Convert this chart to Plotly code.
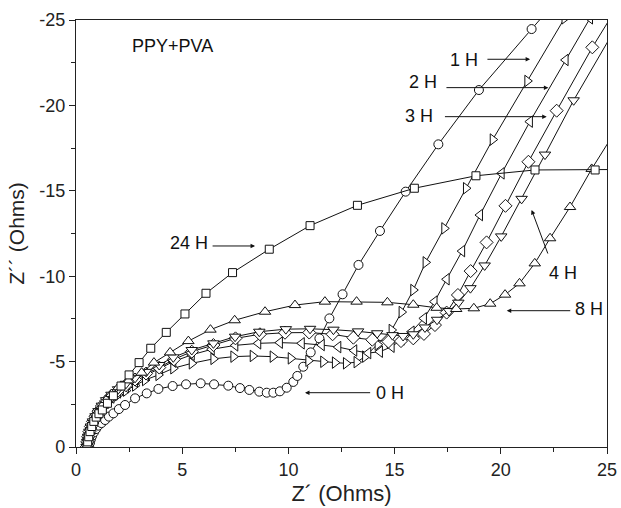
import plotly.graph_objects as go

# ---------------- data (Z' , Z'') ----------------
x_0h = [0.62,0.66,0.7,0.76,0.84,0.94,1.05,1.2,1.37,1.55,1.76,2.02,2.31,2.78,3.33,3.88,4.55,5.18,5.87,6.50,7.17,7.72,8.16,8.63,8.98,9.29,9.60,9.92,10.23,10.42,10.70,11.05,11.46,11.93,12.55,13.30,14.31,15.52,17.06,18.97,21.45,22.6]
y_0h = [-0.05,-0.25,-0.45,-0.65,-0.85,-1.05,-1.25,-1.4,-1.58,-1.78,-1.97,-2.22,-2.46,-2.85,-3.14,-3.40,-3.57,-3.67,-3.73,-3.67,-3.59,-3.45,-3.34,-3.24,-3.18,-3.18,-3.26,-3.47,-3.81,-4.16,-4.70,-5.54,-6.36,-7.53,-8.94,-10.66,-12.65,-14.95,-17.72,-20.90,-24.47,-26.1]

x_1h = [0.5,0.53,0.57,0.63,0.7,0.8,0.92,1.06,1.22,1.42,1.67,1.98,2.35,2.78,3.25,3.88,4.58,5.45,6.47,7.41,8.32,9.26,10.11,10.94,11.64,12.19,12.71,13.21,13.61,14.2,14.86,15.33,15.88,16.46,17.34,18.36,19.62,21.25,23.0]
y_1h = [0.0,-0.28,-0.55,-0.85,-1.12,-1.4,-1.68,-1.95,-2.22,-2.5,-2.78,-3.05,-3.3,-3.6,-3.92,-4.22,-4.61,-4.90,-5.16,-5.29,-5.33,-5.29,-5.19,-5.05,-4.99,-4.94,-4.90,-4.97,-5.29,-6.0,-6.85,-7.9,-9.19,-10.81,-12.8,-15.15,-18.0,-21.43,-25.1]

x_2h = [0.5,0.53,0.57,0.63,0.7,0.8,0.92,1.06,1.22,1.42,1.67,1.98,2.35,2.78,3.3,3.95,4.58,5.45,6.39,7.5,8.58,9.60,10.63,11.57,12.35,13.1,13.76,14.31,14.86,15.33,15.8,16.38,16.88,17.45,18.18,19.02,20.04,21.37,23.05,24.2]
y_2h = [0.0,-0.29,-0.58,-0.88,-1.17,-1.46,-1.75,-2.03,-2.32,-2.6,-2.9,-3.2,-3.5,-3.82,-4.2,-4.61,-5.0,-5.4,-5.72,-5.95,-6.07,-6.11,-6.07,-5.97,-5.85,-5.65,-5.5,-5.58,-5.87,-6.30,-6.75,-7.53,-8.51,-9.82,-11.47,-13.58,-16.02,-19.05,-22.66,-25.1]

x_3h = [0.5,0.53,0.57,0.63,0.7,0.8,0.92,1.06,1.22,1.42,1.67,1.98,2.35,2.78,3.3,3.92,4.61,5.45,6.47,7.51,8.66,9.84,10.98,12.08,13.06,13.95,14.71,15.3,15.88,16.38,16.90,17.45,17.98,18.58,19.33,20.22,21.30,22.63,24.31,25.2]
y_3h = [0.0,-0.3,-0.6,-0.9,-1.2,-1.5,-1.8,-2.1,-2.4,-2.7,-3.0,-3.3,-3.62,-3.95,-4.3,-4.65,-5.13,-5.58,-5.97,-6.36,-6.6,-6.69,-6.7,-6.6,-6.4,-6.28,-6.17,-6.2,-6.36,-6.62,-7.14,-7.87,-8.9,-10.3,-11.98,-14.12,-16.7,-19.69,-23.4,-25.2]

x_4h = [0.5,0.53,0.57,0.63,0.7,0.8,0.92,1.06,1.22,1.42,1.67,1.98,2.35,2.78,3.3,3.92,4.58,5.45,6.47,7.49,8.63,9.88,11.02,12.12,13.28,14.18,14.9,15.4,15.88,16.43,17.0,17.56,18.0,18.57,19.24,20.02,20.98,22.08,23.43,25.3]
y_4h = [0.0,-0.3,-0.6,-0.9,-1.2,-1.5,-1.8,-2.1,-2.42,-2.74,-3.06,-3.38,-3.7,-4.05,-4.4,-4.8,-5.25,-5.68,-6.07,-6.46,-6.75,-6.9,-6.92,-6.87,-6.77,-6.66,-6.55,-6.5,-6.6,-7.0,-7.45,-7.96,-8.45,-9.3,-10.63,-12.33,-14.53,-17.12,-20.3,-24.3]

x_8h = [0.5,0.53,0.57,0.63,0.7,0.8,0.92,1.06,1.22,1.42,1.67,2.0,2.45,3.09,3.67,4.43,5.29,6.33,7.47,8.90,10.31,11.72,13.21,14.66,15.88,16.98,17.9,18.73,19.5,20.2,20.88,21.6,22.32,23.26,24.28,25.6]
y_8h = [0.0,-0.3,-0.6,-0.9,-1.2,-1.5,-1.8,-2.1,-2.4,-2.75,-3.1,-3.5,-3.9,-4.35,-4.94,-5.54,-6.2,-6.87,-7.42,-7.92,-8.31,-8.51,-8.51,-8.47,-8.33,-8.15,-8.08,-8.12,-8.39,-8.92,-9.58,-10.75,-12.22,-14.05,-16.28,-18.9]

x_24h = [0.52,0.55,0.6,0.66,0.74,0.84,0.95,1.08,1.24,1.48,1.76,2.12,2.50,2.97,3.52,4.25,5.13,6.12,7.37,9.10,11.02,13.25,15.93,18.83,21.61,24.44,26.0]
y_24h = [0.0,-0.3,-0.6,-0.9,-1.2,-1.5,-1.75,-1.95,-2.17,-2.56,-3.0,-3.57,-4.22,-4.94,-5.78,-6.71,-7.79,-9.0,-10.21,-11.58,-12.96,-14.15,-15.15,-15.88,-16.22,-16.22,-16.25]

x_ticks = [0, 5, 10, 15, 20, 25]
x_tick_text = ["0", "5", "10", "15", "20", "25"]
y_ticks = [0, -5, -10, -15, -20, -25]
y_tick_text = ["0", "-5", "-10", "-15", "-20", "-25"]

series = [
    ("0 H", x_0h, y_0h, "circle", 9),
    ("1 H", x_1h, y_1h, "triangle-right", 10),
    ("2 H", x_2h, y_2h, "triangle-left", 10),
    ("3 H", x_3h, y_3h, "diamond", 10),
    ("4 H", x_4h, y_4h, "triangle-down", 10),
    ("8 H", x_8h, y_8h, "triangle-up", 10),
    ("24 H", x_24h, y_24h, "square", 8),
]

FONT = "Liberation Sans, Arial, sans-serif"

fig = go.Figure()
for name, xs, ys, sym, sz in series:
    fig.add_trace(go.Scatter(
        x=xs, y=ys, mode="lines+markers", name=name,
        line=dict(color="#111", width=1),
        marker=dict(symbol=sym, size=sz, color="white",
                    line=dict(color="#111", width=1)),
        showlegend=False,
    ))

# labels (text) and arrows
labels = [
    ("PPY+PVA", 2.54, -23.5, "left"),
    ("1 H", 18.27, -22.66, "center"),
    ("2 H", 16.36, -21.37, "center"),
    ("3 H", 16.15, -19.38, "center"),
    ("24 H", 5.32, -11.94, "center"),
    ("0 H", 14.78, -3.18, "center"),
    ("8 H", 24.15, -8.06, "center"),
    ("4 H", 22.95, -10.2, "center"),
]
for txt, x, y, anc in labels:
    fig.add_annotation(x=x, y=y, text=txt, showarrow=False, xanchor=anc,
                       font=dict(family=FONT, size=18, color="#111"))

arrows = [
    (21.38, -22.7, 19.3, -22.7),
    (22.24, -21.04, 17.37, -21.04),
    (22.16, -19.34, 17.3, -19.34),
    (8.43, -11.77, 6.36, -11.77),
    (10.78, -3.18, 13.92, -3.18),
    (20.28, -7.98, 23.34, -7.98),
    (21.45, -13.88, 22.24, -11.24),
]
for hx, hy, tx, ty in arrows:
    fig.add_annotation(x=hx, y=hy, ax=tx, ay=ty, axref="x", ayref="y",
                       xref="x", yref="y", text="", showarrow=True,
                       arrowhead=2, arrowsize=0.9, arrowwidth=1, arrowcolor="#111",
                       standoff=0, startstandoff=0)

axis_common = dict(
    showgrid=False, zeroline=False, showline=True, linecolor="#222", linewidth=1.3,
    mirror=True, ticks="outside", ticklen=6, tickwidth=1.2, tickcolor="#222",
    tickfont=dict(family=FONT, size=18, color="#222"), automargin=False,
    minor=dict(ticks="outside", ticklen=4, tickwidth=1.2, tickcolor="#222", dtick=2.5, showgrid=False),
)

fig.update_xaxes(range=[0, 25], tickvals=x_ticks, ticktext=x_tick_text,
                 title=dict(text="Z´ (Ohms)", font=dict(family=FONT, size=22, color="#222"), standoff=6),
                 **axis_common)
fig.update_yaxes(range=[0, -25], tickvals=y_ticks, ticktext=y_tick_text,
                 title=dict(text="Z´´ (Ohms)", font=dict(family=FONT, size=21, color="#222"), standoff=8),
                 **axis_common)

fig.update_layout(
    width=621, height=508,
    margin=dict(l=76, r=14, t=20, b=61),
    paper_bgcolor="white", plot_bgcolor="white",
    font=dict(family=FONT),
)

fig.write_html("out.html")
